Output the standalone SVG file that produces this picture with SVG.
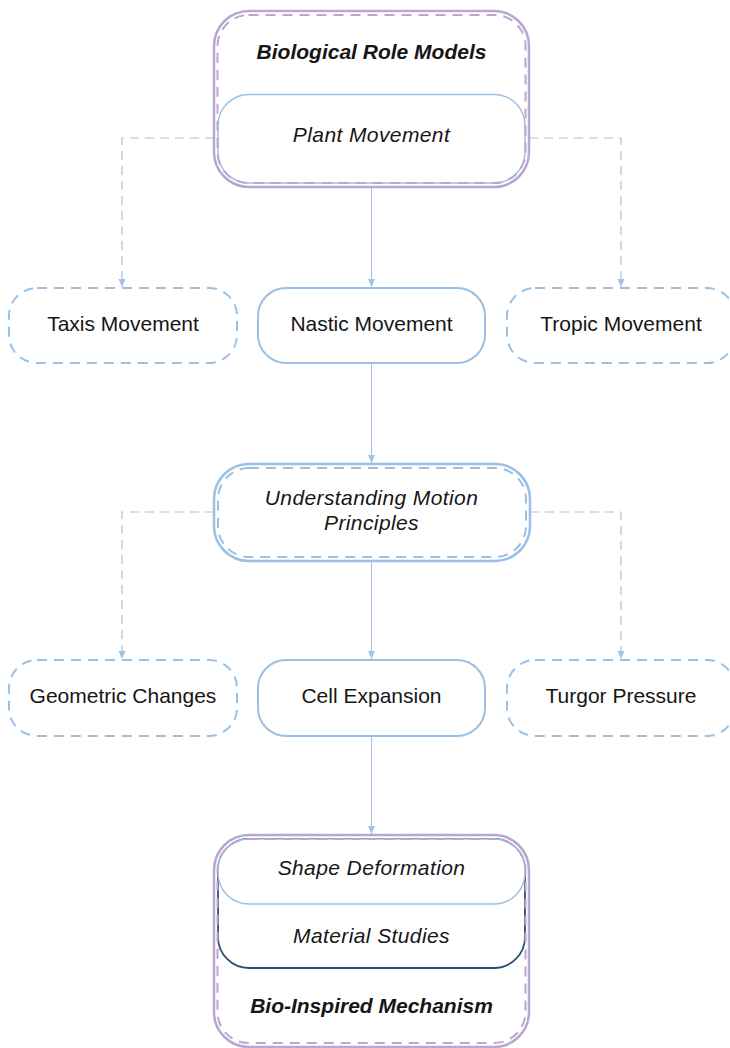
<svg xmlns="http://www.w3.org/2000/svg" width="730" height="1048" viewBox="0 0 730 1048">
  <style>
    .lbl { font-family: "Liberation Sans", Arial, sans-serif; font-size: 21px; fill: #161616; text-anchor: middle; }
    .it { font-style: italic; letter-spacing: 0.4px; }
    .bd { font-weight: bold; letter-spacing: 0; }
    .solid { fill: #ffffff; stroke: #9cc0e4; stroke-width: 2; }
    .dash { fill: #ffffff; stroke: #9cc0e4; stroke-width: 2; stroke-dasharray: 10 7; }
    .grpOuter { fill: #ffffff; stroke: #bba6d2; stroke-width: 2.5; }
    .grpInner { fill: none; stroke: #bba6d2; stroke-width: 2; stroke-dasharray: 10 7; }
    .sub { fill: #ffffff; stroke: #9cc0e4; stroke-width: 1.5; }
    .subDark { fill: #ffffff; stroke: #2c4e76; stroke-width: 1.8; }
    .conn { fill: none; stroke: #a3c3e4; stroke-width: 1; }
    .connDash { fill: none; stroke: #a3c3e4; stroke-width: 1.2; stroke-dasharray: 9 6; }
  </style>
  <defs>
    <marker id="arrow" viewBox="0 0 8 8" refX="8" refY="4" markerWidth="8" markerHeight="8" markerUnits="userSpaceOnUse" orient="auto">
      <path d="M0,0.5 L8,4 L0,7.5 Z" fill="#a3c3e4"/>
    </marker>
  </defs>

  <rect width="730" height="1048" fill="#ffffff"/>

  <!-- connectors -->
  <g id="connectors">
    <path class="conn" d="M371.5,187 V287" marker-end="url(#arrow)"/>
    <path class="connDash" d="M214,138 H122 V287" marker-end="url(#arrow)"/>
    <path class="connDash" d="M529,138 H621 V287" marker-end="url(#arrow)"/>
    <path class="conn" d="M371.5,363 V463" marker-end="url(#arrow)"/>
    <path class="conn" d="M371.5,561 V659" marker-end="url(#arrow)"/>
    <path class="connDash" d="M214,512 H122 V659" marker-end="url(#arrow)"/>
    <path class="connDash" d="M530,512 H621 V659" marker-end="url(#arrow)"/>
    <path class="conn" d="M371.5,736 V834" marker-end="url(#arrow)"/>
  </g>

  <!-- group: Biological Role Models -->
  <g id="biological-role-models">
    <rect class="grpOuter" x="214" y="11" width="315" height="176" rx="35"/>
    <text class="lbl it bd" x="371.5" y="59">Biological Role Models</text>
    <g id="plant-movement">
      <rect class="sub" x="218" y="94.5" width="307" height="88.5" rx="31"/>
      <text class="lbl it" x="371.5" y="142">Plant Movement</text>
    </g>
    <rect class="grpInner" x="217.5" y="15" width="308" height="168" rx="31"/>
  </g>

  <g id="taxis-movement">
    <rect class="dash" x="9" y="288" width="228" height="75" rx="28"/>
    <text class="lbl" x="123" y="331">Taxis Movement</text>
  </g>
  <g id="nastic-movement">
    <rect class="solid" x="258" y="288" width="227" height="75" rx="28"/>
    <text class="lbl" x="371.5" y="331">Nastic Movement</text>
  </g>
  <g id="tropic-movement">
    <rect class="dash" x="507" y="288" width="228" height="75" rx="28"/>
    <text class="lbl" x="621" y="331">Tropic Movement</text>
  </g>

  <g id="understanding-motion-principles">
    <rect fill="#ffffff" stroke="#9cc0e4" stroke-width="2.5" x="214" y="464" width="316" height="97" rx="35"/>
    <rect class="dash" fill="none" x="218" y="468" width="308" height="89" rx="31"/>
    <text class="lbl it" x="371.5" y="505">Understanding Motion</text>
    <text class="lbl it" x="371.5" y="530">Principles</text>
  </g>

  <g id="geometric-changes">
    <rect class="dash" x="9" y="660" width="228" height="76" rx="28"/>
    <text class="lbl" x="123" y="703">Geometric Changes</text>
  </g>
  <g id="cell-expansion">
    <rect class="solid" x="258" y="660" width="227" height="76" rx="28"/>
    <text class="lbl" x="371.5" y="703">Cell Expansion</text>
  </g>
  <g id="turgor-pressure">
    <rect class="dash" x="507" y="660" width="228" height="76" rx="28"/>
    <text class="lbl" x="621" y="703">Turgor Pressure</text>
  </g>

  <!-- group: Bio-Inspired Mechanism -->
  <g id="bio-inspired-mechanism">
    <rect class="grpOuter" x="214" y="835" width="315" height="212" rx="35"/>
    <g id="material-studies">
      <rect class="subDark" x="218" y="839" width="307" height="129" rx="31"/>
      <text class="lbl it" x="371.5" y="943">Material Studies</text>
    </g>
    <g id="shape-deformation">
      <rect class="sub" x="218" y="839" width="307" height="65" rx="31"/>
      <text class="lbl it" x="371.5" y="875">Shape Deformation</text>
    </g>
    <text class="lbl it bd" x="371.5" y="1013">Bio-Inspired Mechanism</text>
    <rect class="grpInner" x="217.5" y="839" width="308" height="204" rx="31"/>
  </g>
</svg>
